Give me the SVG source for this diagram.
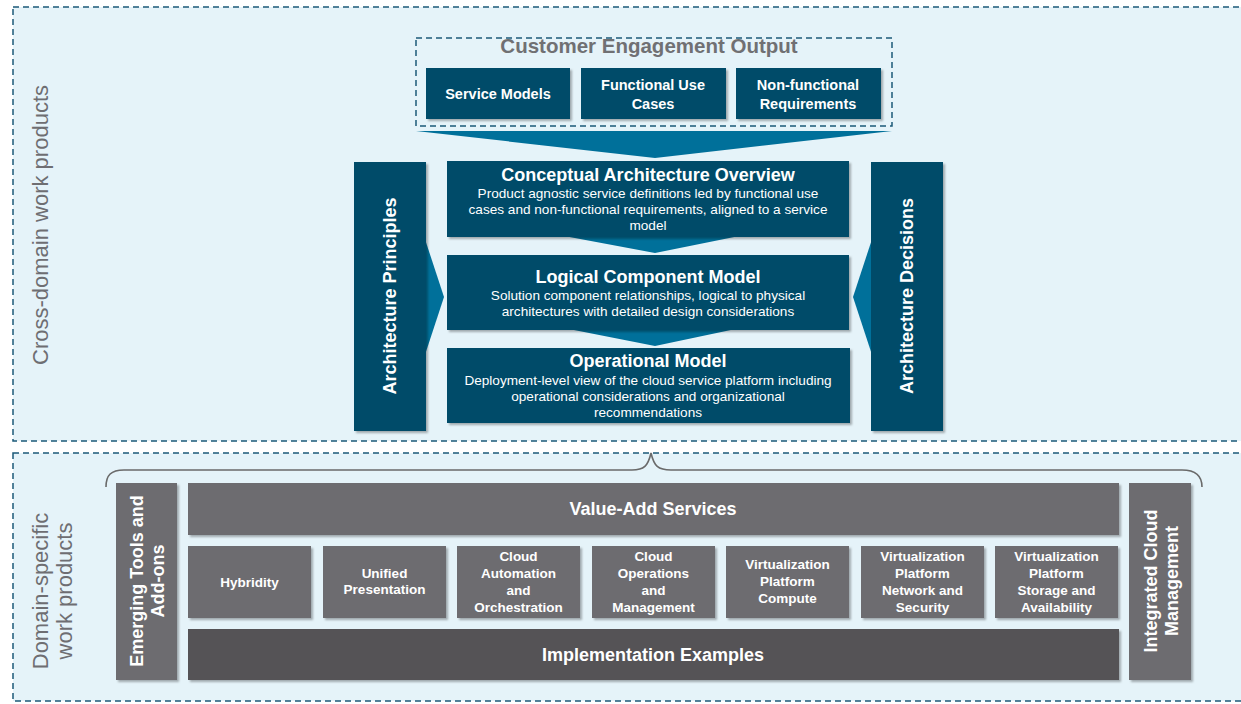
<svg xmlns="http://www.w3.org/2000/svg" width="1241" height="704" viewBox="0 0 1241 704">
<defs>
<filter id="sh" x="-10%" y="-10%" width="130%" height="130%">
<feDropShadow dx="2" dy="2" stdDeviation="1.2" flood-color="#000" flood-opacity="0.3"/>
</filter>
<style>
.region{fill:#e5f3f9;stroke:#1b5a78;stroke-width:1.5;stroke-dasharray:6 4}
.dash{fill:none;stroke:#1b5a78;stroke-width:1.5;stroke-dasharray:6 4}
.blue{fill:#004b69;filter:url(#sh)}
.grey{fill:#6d6c70;filter:url(#sh)}
.dgrey{fill:#545357;filter:url(#sh)}
.chev{fill:#00709a}
.brace{fill:none;stroke:#6a6a6a;stroke-width:1.6}
text{font-family:"Liberation Sans",Arial,sans-serif;text-anchor:middle}
.w{fill:#ffffff;font-weight:bold}
.d{fill:#ffffff;font-size:13.6px}
.t{font-size:18px}
.s{font-size:14.5px}
.sm{font-size:13.5px}
.side{font-size:18px}
.gl{fill:#6e6e72;font-size:22px}
.glb{fill:#707073;font-size:20.5px;font-weight:bold}
</style>
</defs>
<rect width="1241" height="704" fill="#ffffff"/>
<rect class="region" x="13" y="7" width="1240" height="434"/>
<rect class="region" x="13" y="453" width="1240" height="248"/>

<g id="label-cross-domain">
<text class="gl" transform="translate(48,225) rotate(-90)">Cross-domain work products</text>
</g>
<g id="label-domain-specific">
<text class="gl" transform="translate(48,591) rotate(-90)">Domain-specific</text>
<text class="gl" transform="translate(72,591) rotate(-90)">work products</text>
</g>

<g id="connectors">
<polygon class="chev" points="416,131 892,131 655,158"/>
<polygon class="chev" points="447,214 849,214 655,253"/>
<polygon class="chev" points="447,305 849,305 655,346"/>
<polygon class="chev" points="420,224 444,297 420,370"/>
<polygon class="chev" points="877,224 853,297 877,370"/>
<path class="brace" d="M106,487 C106,475 111,470 124,470 L632,470 C644,470 648,466 651,453 C654,466 658,470 671,470 L1182,470 C1195,470 1202,475 1202,487"/>
</g>

<g id="customer-engagement-output">
<rect class="dash" x="416" y="38" width="476" height="88"/>
<text class="glb" x="649" y="53">Customer Engagement Output</text>
</g>
<g id="service-models">
<rect class="blue" x="426" y="68" width="144" height="51"/>
<text class="w s" x="498" y="99">Service Models</text>
</g>
<g id="functional-use-cases">
<rect class="blue" x="581" y="68" width="145" height="51"/>
<text class="w s" x="653" y="90">Functional Use</text>
<text class="w s" x="653" y="109">Cases</text>
</g>
<g id="non-functional-requirements">
<rect class="blue" x="736" y="68" width="145" height="51"/>
<text class="w s" x="808" y="90">Non-functional</text>
<text class="w s" x="808" y="109">Requirements</text>
</g>

<g id="architecture-principles">
<rect class="blue" x="354" y="162" width="72" height="269"/>
<text class="w side" transform="translate(396,296) rotate(-90)">Architecture Principles</text>
</g>
<g id="architecture-decisions">
<rect class="blue" x="871" y="162" width="72" height="269"/>
<text class="w side" transform="translate(913,296) rotate(-90)">Architecture Decisions</text>
</g>

<g id="conceptual-architecture-overview">
<rect class="blue" x="447" y="161" width="402" height="76"/>
<text class="w t" x="648" y="181">Conceptual Architecture Overview</text>
<text class="d" x="648" y="198">Product agnostic service definitions led by functional use</text>
<text class="d" x="648" y="214">cases and non-functional requirements, aligned to a service</text>
<text class="d" x="648" y="230">model</text>
</g>
<g id="logical-component-model">
<rect class="blue" x="447" y="255" width="402" height="75"/>
<text class="w t" x="648" y="283">Logical Component Model</text>
<text class="d" x="648" y="300">Solution component relationships, logical to physical</text>
<text class="d" x="648" y="316">architectures with detailed design considerations</text>
</g>
<g id="operational-model">
<rect class="blue" x="447" y="348" width="403" height="75"/>
<text class="w t" x="648" y="367">Operational Model</text>
<text class="d" x="648" y="385">Deployment-level view of the cloud service platform including</text>
<text class="d" x="648" y="401">operational considerations and organizational</text>
<text class="d" x="648" y="417">recommendations</text>
</g>

<g id="emerging-tools">
<rect class="grey" x="116" y="483" width="61" height="197"/>
<text class="w side" transform="translate(143,581) rotate(-90)">Emerging Tools and</text>
<text class="w side" transform="translate(164,581) rotate(-90)">Add-ons</text>
</g>
<g id="value-add-services">
<rect class="grey" x="188" y="483" width="931" height="52"/>
<text class="w t" x="653" y="515">Value-Add Services</text>
</g>
<g id="hybridity">
<rect class="grey" x="188" y="546" width="123" height="72"/>
<text class="w sm" x="249.5" y="587">Hybridity</text>
</g>
<g id="unified-presentation">
<rect class="grey" x="323" y="546" width="123" height="72"/>
<text class="w sm" x="384.5" y="578">Unified</text>
<text class="w sm" x="384.5" y="594">Presentation</text>
</g>
<g id="cloud-automation">
<rect class="grey" x="457" y="546" width="123" height="72"/>
<text class="w sm" x="518.5" y="561">Cloud</text>
<text class="w sm" x="518.5" y="578">Automation</text>
<text class="w sm" x="518.5" y="595">and</text>
<text class="w sm" x="518.5" y="612">Orchestration</text>
</g>
<g id="cloud-operations">
<rect class="grey" x="592" y="546" width="123" height="72"/>
<text class="w sm" x="653.5" y="561">Cloud</text>
<text class="w sm" x="653.5" y="578">Operations</text>
<text class="w sm" x="653.5" y="595">and</text>
<text class="w sm" x="653.5" y="612">Management</text>
</g>
<g id="virtualization-compute">
<rect class="grey" x="726" y="546" width="123" height="72"/>
<text class="w sm" x="787.5" y="569">Virtualization</text>
<text class="w sm" x="787.5" y="586">Platform</text>
<text class="w sm" x="787.5" y="603">Compute</text>
</g>
<g id="virtualization-network">
<rect class="grey" x="861" y="546" width="123" height="72"/>
<text class="w sm" x="922.5" y="561">Virtualization</text>
<text class="w sm" x="922.5" y="578">Platform</text>
<text class="w sm" x="922.5" y="595">Network and</text>
<text class="w sm" x="922.5" y="612">Security</text>
</g>
<g id="virtualization-storage">
<rect class="grey" x="995" y="546" width="123" height="72"/>
<text class="w sm" x="1056.5" y="561">Virtualization</text>
<text class="w sm" x="1056.5" y="578">Platform</text>
<text class="w sm" x="1056.5" y="595">Storage and</text>
<text class="w sm" x="1056.5" y="612">Availability</text>
</g>
<g id="implementation-examples">
<rect class="dgrey" x="188" y="629" width="931" height="51"/>
<text class="w t" x="653" y="661">Implementation Examples</text>
</g>
<g id="integrated-cloud-management">
<rect class="grey" x="1129" y="483" width="62" height="197"/>
<text class="w side" transform="translate(1157,581) rotate(-90)">Integrated Cloud</text>
<text class="w side" transform="translate(1178,581) rotate(-90)">Management</text>
</g>
</svg>
